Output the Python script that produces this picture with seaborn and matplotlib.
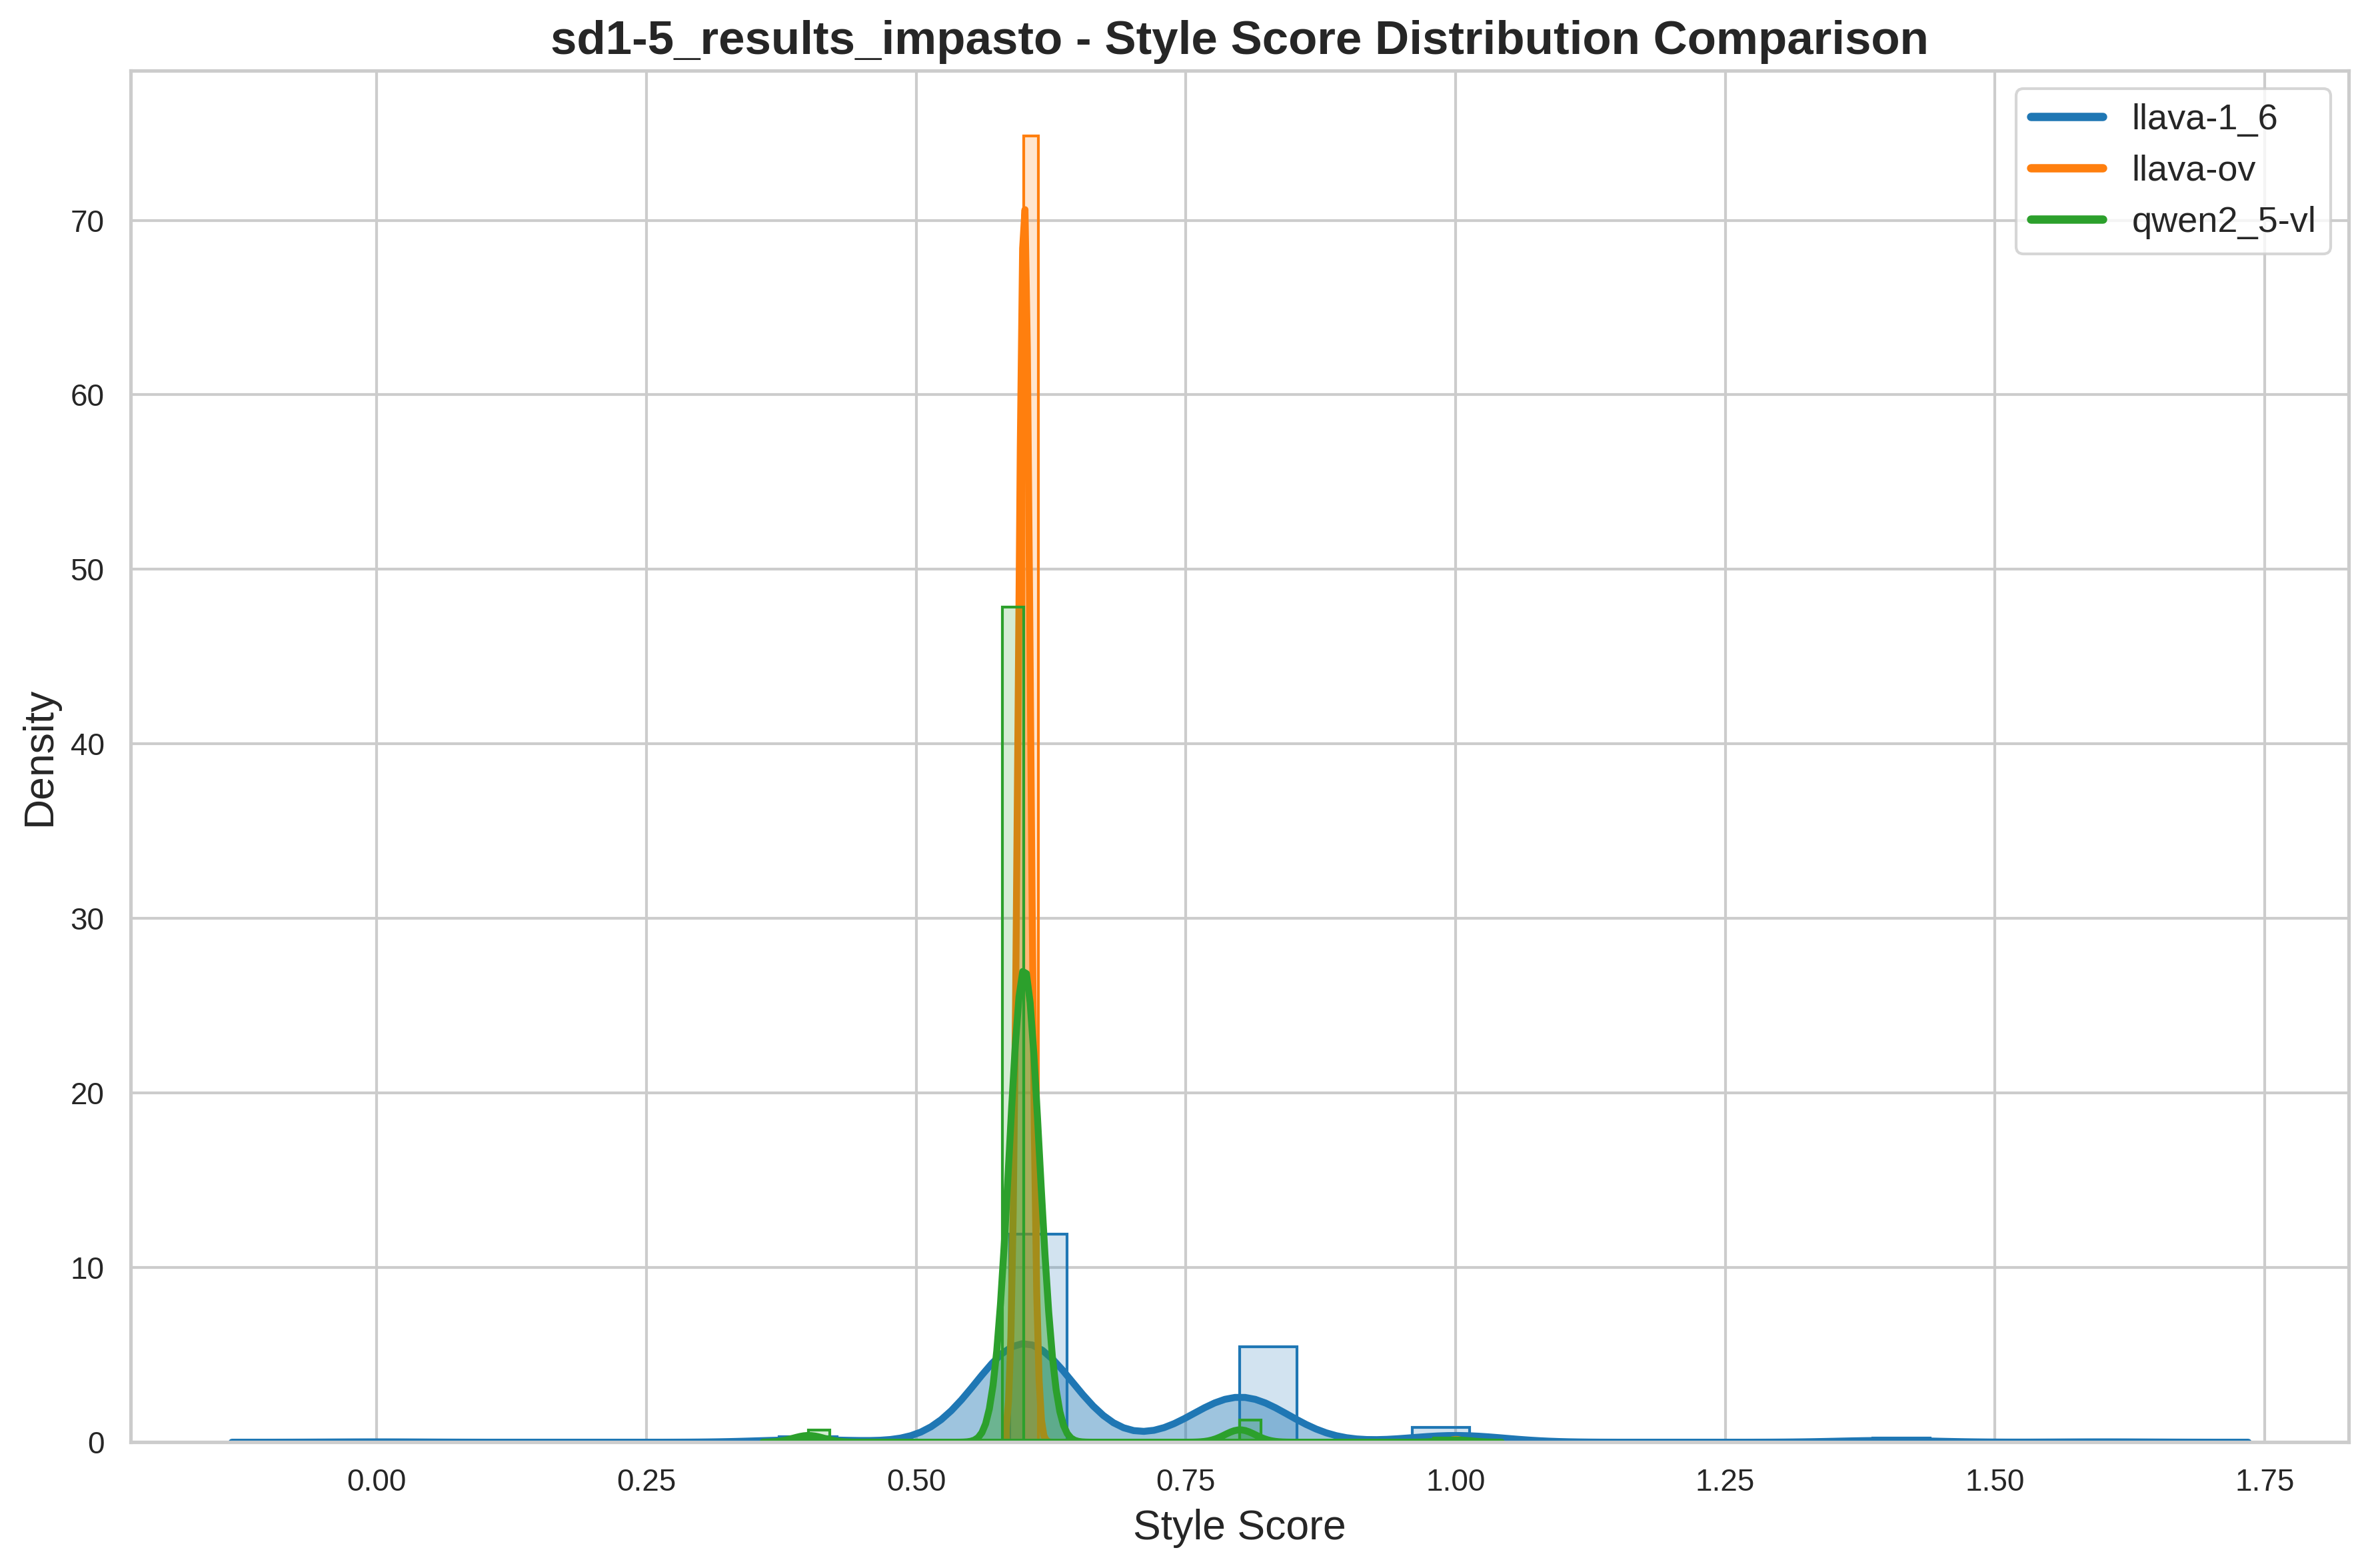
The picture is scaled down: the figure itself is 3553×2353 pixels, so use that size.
import numpy as np
import seaborn as sns
import matplotlib.pyplot as plt
from matplotlib.lines import Line2D

# ---- data (score values and how many images received each score) ----
models = ["llava-1_6", "llava-ov", "qwen2_5-vl"]
colors = ["#1f77b4", "#ff7f0e", "#2ca02c"]

llava16_scores = [0.0, 0.4, 0.6, 0.8, 1.0, 1.4, 1.6]
llava16_counts = [1, 7, 278, 127, 19, 5, 1]

llavaov_scores = [0.6, 1.0]
llavaov_counts = [444, 1]

qwen_scores = [0.4, 0.6, 0.8, 1.0]
qwen_counts = [6, 421, 11, 2]

title = "sd1-5_results_impasto - Style Score Distribution Comparison"
xlabel = "Style Score"
ylabel = "Density"

score_sets = [(llava16_scores, llava16_counts),
              (llavaov_scores, llavaov_counts),
              (qwen_scores, qwen_counts)]

sns.set_theme(style="whitegrid")
plt.rcParams['font.family'] = ['Liberation Sans', 'DejaVu Sans']

fig, ax = plt.subplots(figsize=(12, 8))

for (scores, counts), col in zip(score_sets, colors):
    data = np.repeat(np.array(scores, dtype=float), counts)
    sns.histplot(x=data, bins=30, stat="density", color=col, alpha=0.2,
                 edgecolor=col, linewidth=1, ax=ax)
    sns.kdeplot(x=data, color=col, fill=True, alpha=0.43, linewidth=2.5, ax=ax)

handles = [Line2D([0], [0], color=c, lw=3) for c in colors]
ax.legend(handles, models, loc="upper right", fontsize=13)

ax.set_title(title, fontsize=17, fontweight="bold")
ax.set_xlabel(xlabel, fontsize=15)
ax.set_ylabel(ylabel, fontsize=15)
ax.tick_params(labelsize=11)

plt.tight_layout()
plt.savefig("out.png", dpi=300, bbox_inches="tight")
